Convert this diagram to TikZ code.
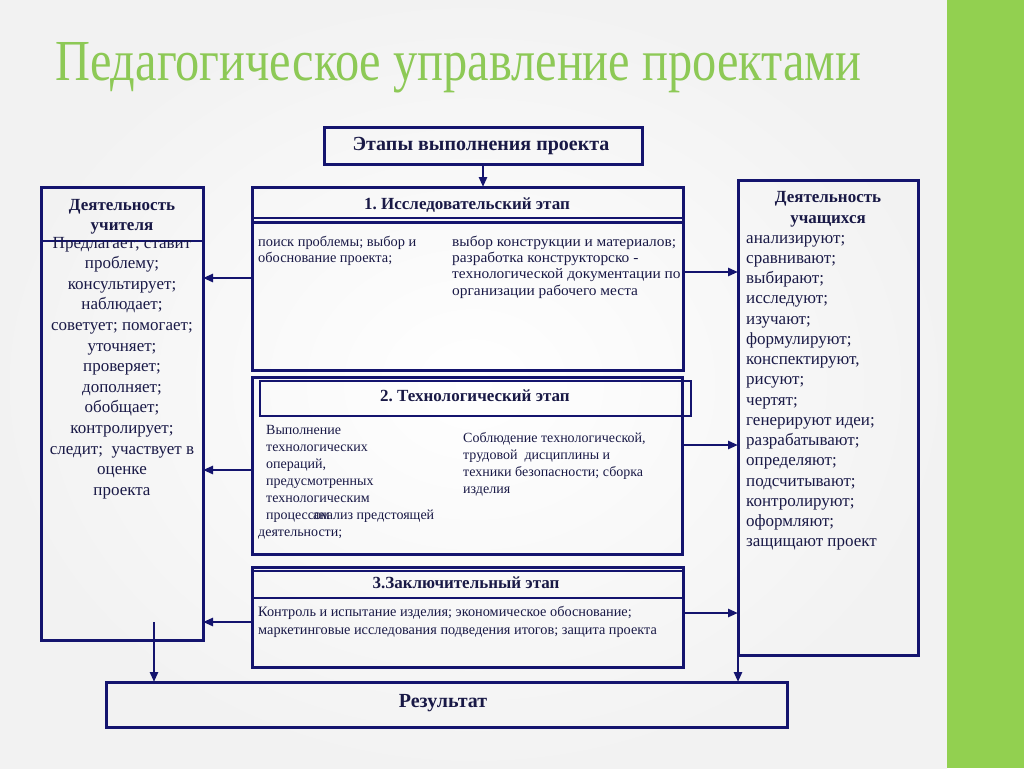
\documentclass[tikz,border=0pt]{standalone}
\usepackage{fontspec}
\setmainfont{Liberation Serif}
\usetikzlibrary{arrows.meta}
\definecolor{navy}{RGB}{20,20,110}
\definecolor{ink}{RGB}{25,25,70}
\definecolor{slidegreen}{RGB}{146,208,80}
\definecolor{titlegreen}{RGB}{141,201,86}
\frenchspacing
\begin{document}
\begin{tikzpicture}[x=1pt,y=-1pt,
  box/.style={draw=navy,line width=3pt,inner sep=0pt,outer sep=0pt},
  sep/.style={draw=navy,line width=2.4pt},
  arr/.style={draw=navy,line width=2.6pt,-{Triangle[length=10pt,width=8pt]}},
  ln/.style={anchor=base west,inner sep=0pt,text=ink},
  lc/.style={anchor=base,inner sep=0pt,text=ink},
  hd/.style={anchor=base,inner sep=0pt,text=ink,font=\fontsize{17}{20}\selectfont\bfseries},
  side/.style={font=\fontsize{17}{20}\selectfont},
  sa/.style={font=\fontsize{14.4}{17}\selectfont},
  sb/.style={font=\fontsize{14.6}{17}\selectfont\addfontfeatures{FakeStretch=1.055}},
  sc/.style={font=\fontsize{14}{17}\selectfont},
  sd/.style={font=\fontsize{14.3}{17}\selectfont}]
\useasboundingbox (0,0) rectangle (1024,768);
% background
\shade[inner color=white,outer color=gray!10] (0,0) rectangle (947,768);
\fill[slidegreen] (947,0) rectangle (1024,768);
% title
\node[anchor=base west,inner sep=0pt,text=titlegreen] (title) at (55,80)
  {\resizebox{806pt}{38pt}{Педагогическое управление проектами}};
% boxes
\node[box,minimum width=318pt,minimum height=37pt] (top) at (483,145.5) {};
\node[box,minimum width=431pt,minimum height=183pt] (s1) at (467.5,278.5) {};
\node[box,minimum width=430pt,minimum height=177pt] (s2) at (467,465.5) {};
\node[box,line width=2.4pt,minimum width=431pt,minimum height=35pt] (s2t) at (475.5,398.5) {};
\node[box,minimum width=431pt,minimum height=100pt] (s3) at (467.5,617) {};
\node[box,minimum width=162pt,minimum height=453pt] (lb) at (122,413.5) {};
\node[box,minimum width=180pt,minimum height=475pt] (rb) at (828,417.5) {};
\node[box,minimum width=681pt,minimum height=45pt] (res) at (446.5,704.5) {};
% separators
\draw[sep] (s1.west |- 0,218) -- (s1.east |- 0,218);
\draw[sep] (s1.west |- 0,222.5) -- (s1.east |- 0,222.5);
\draw[sep] (s3.west |- 0,571) -- (s3.east |- 0,571);
\draw[sep] (s3.west |- 0,598) -- (s3.east |- 0,598);
\draw[navy,line width=1.3pt] (lb.west |- 0,241) -- (lb.east |- 0,241);
% headings
\node[hd,font=\fontsize{20}{24}\selectfont\bfseries] (toptxt) at (481,150) {Этапы выполнения проекта};
\node[hd] (s1txt) at (467,209) {1. Исследовательский этап};
\node[hd] (s2txt) at (475,401) {2. Технологический этап};
\node[hd] (s3txt) at (466,588) {3.Заключительный этап};
\node[hd,font=\fontsize{20}{24}\selectfont\bfseries] (restxt) at (443,707) {Результат};
\node[hd] (lbh1) at (122,210) {Деятельность};
\node[hd] (lbh2) at (122,230) {учителя};
\node[hd] (rbh1) at (828,202) {Деятельность};
\node[hd] (rbh2) at (828,223) {учащихся};
% left list
\foreach \t [count=\i] in {{Предлагает; ставит},{проблему;},{консультирует;},{наблюдает;},{советует; помогает;},{уточняет;},{проверяет;},{дополняет;},{обобщает;},{контролирует;},{следит;\ \ участвует в},{оценке},{проекта}}
  \node[lc,side] (ll\i) at (122,{248+20.6*(\i-1)}) {\t};
% right list
\foreach \t [count=\i] in {{анализируют;},{сравнивают;},{выбирают;},{исследуют;},{изучают;},{формулируют;},{конспектируют,},{рисуют;},{чертят;},{генерируют идеи;},{разрабатывают;},{определяют;},{подсчитывают;},{контролируют;},{оформляют;},{защищают проект}}
  \node[ln,side] (rl\i) at (746,{243+20.25*(\i-1)}) {\t};
% stage 1 content
\node[ln,sa] (a1) at (258,246) {поиск проблемы; выбор и};
\node[ln,sa] (a2) at (258,262) {обоснование проекта;};
\foreach \t [count=\i] in {{выбор конструкции и материалов;},{разработка конструкторско -},{технологической документации по},{организации рабочего места}}
  \node[ln,sb] (b\i) at (452,{246+16.4*(\i-1)}) {\t};
% stage 2 content
\foreach \t [count=\i] in {{Выполнение},{технологических},{операций,},{предусмотренных},{технологическим},{процессом}}
  \node[ln,sc] (c\i) at (266,{434+17*(\i-1)}) {\t};
\node[ln,sc] (c7) at (313,519) {анализ предстоящей};
\node[ln,sc] (c8) at (258,536) {деятельности;};
\foreach \t [count=\i] in {{Соблюдение технологической,},{трудовой\ \ дисциплины и},{техники безопасности; сборка},{изделия}}
  \node[ln,sc] (d\i) at (463,{442+17*(\i-1)}) {\t};
% stage 3 content
\node[ln,sd] (e1) at (258,616) {Контроль и испытание изделия; экономическое обоснование;};
\node[ln,sd] (e2) at (258,634) {маркетинговые исследования подведения итогов; защита проекта};
% connectors
\draw[arr] (top.south) -- (top.south |- s1.north);
\draw[arr] (s1.east |- 0,272) -- (rb.west |- 0,272);
\draw[arr] (s1.west |- 0,278) -- (lb.east |- 0,278);
\draw[arr] (s2.east |- 0,445) -- (rb.west |- 0,445);
\draw[arr] (s2.west |- 0,470) -- (lb.east |- 0,470);
\draw[arr] (s3.east |- 0,613) -- (rb.west |- 0,613);
\draw[arr] (s3.west |- 0,622) -- (lb.east |- 0,622);
\coordinate (lstart) at (154,622);
\draw[arr] (lstart) -- (lstart |- res.north);
\draw[arr] (rb.south west) -- (rb.south west |- res.north);
\end{tikzpicture}
\end{document}
